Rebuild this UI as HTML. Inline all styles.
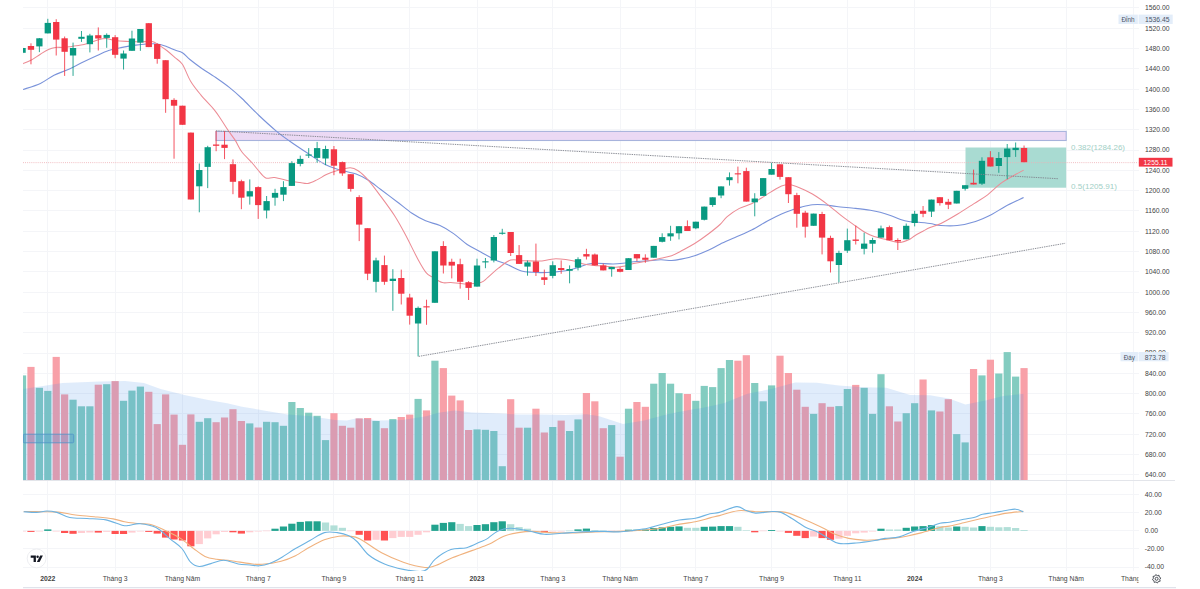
<!DOCTYPE html><html><head><meta charset="utf-8"><style>html,body{margin:0;padding:0;background:#fff;}svg{display:block;}</style></head><body>
<svg width="1200" height="589" viewBox="0 0 1200 589" font-family='"Liberation Sans", sans-serif'>
<rect x="0" y="0" width="1200" height="589" fill="#ffffff"/>
<defs><clipPath id="cm"><rect x="23" y="0" width="1115.5" height="480"/></clipPath>
<clipPath id="cd"><rect x="23" y="481" width="1115.5" height="90"/></clipPath>
<clipPath id="ct"><rect x="23" y="571" width="1115.5" height="17"/></clipPath></defs>
<g stroke="#f4f5f8" stroke-width="1" shape-rendering="crispEdges"><line x1="47.8" y1="0" x2="47.8" y2="571"/><line x1="115.13" y1="0" x2="115.13" y2="571"/><line x1="182.45" y1="0" x2="182.45" y2="571"/><line x1="258.2" y1="0" x2="258.2" y2="571"/><line x1="333.94" y1="0" x2="333.94" y2="571"/><line x1="409.69" y1="0" x2="409.69" y2="571"/><line x1="477.01" y1="0" x2="477.01" y2="571"/><line x1="552.76" y1="0" x2="552.76" y2="571"/><line x1="620.09" y1="0" x2="620.09" y2="571"/><line x1="695.83" y1="0" x2="695.83" y2="571"/><line x1="771.57" y1="0" x2="771.57" y2="571"/><line x1="847.32" y1="0" x2="847.32" y2="571"/><line x1="914.65" y1="0" x2="914.65" y2="571"/><line x1="990.39" y1="0" x2="990.39" y2="571"/><line x1="1066.13" y1="0" x2="1066.13" y2="571"/><line x1="1133.46" y1="0" x2="1133.46" y2="571"/><line x1="23" y1="474.8" x2="1138.5" y2="474.8"/><line x1="23" y1="454.5" x2="1138.5" y2="454.5"/><line x1="23" y1="434.2" x2="1138.5" y2="434.2"/><line x1="23" y1="413.9" x2="1138.5" y2="413.9"/><line x1="23" y1="393.6" x2="1138.5" y2="393.6"/><line x1="23" y1="373.3" x2="1138.5" y2="373.3"/><line x1="23" y1="353" x2="1138.5" y2="353"/><line x1="23" y1="332.7" x2="1138.5" y2="332.7"/><line x1="23" y1="312.4" x2="1138.5" y2="312.4"/><line x1="23" y1="292.1" x2="1138.5" y2="292.1"/><line x1="23" y1="271.8" x2="1138.5" y2="271.8"/><line x1="23" y1="251.5" x2="1138.5" y2="251.5"/><line x1="23" y1="231.2" x2="1138.5" y2="231.2"/><line x1="23" y1="210.9" x2="1138.5" y2="210.9"/><line x1="23" y1="190.6" x2="1138.5" y2="190.6"/><line x1="23" y1="170.3" x2="1138.5" y2="170.3"/><line x1="23" y1="150" x2="1138.5" y2="150"/><line x1="23" y1="129.7" x2="1138.5" y2="129.7"/><line x1="23" y1="109.4" x2="1138.5" y2="109.4"/><line x1="23" y1="89.1" x2="1138.5" y2="89.1"/><line x1="23" y1="68.8" x2="1138.5" y2="68.8"/><line x1="23" y1="48.5" x2="1138.5" y2="48.5"/><line x1="23" y1="28.2" x2="1138.5" y2="28.2"/><line x1="23" y1="7.9" x2="1138.5" y2="7.9"/><line x1="23" y1="494.8" x2="1138.5" y2="494.8"/><line x1="23" y1="512.85" x2="1138.5" y2="512.85"/><line x1="23" y1="530.9" x2="1138.5" y2="530.9"/><line x1="23" y1="548.95" x2="1138.5" y2="548.95"/><line x1="23" y1="567" x2="1138.5" y2="567"/></g>
<g clip-path="url(#cm)">
<rect x="216" y="131.4" width="850.2" height="9.1" fill="#e9d6f3" fill-opacity="0.92" stroke="#a7b3dc" stroke-width="1.1"/>
<rect x="965.5" y="147.5" width="100.7" height="40.2" fill="#a9dbd2"/>
<rect x="18.95" y="375.4" width="7.2" height="104.6" fill="#83ccc0"/><rect x="27.37" y="366.9" width="7.2" height="113.1" fill="#f8a0a8"/><rect x="35.78" y="387.8" width="7.2" height="92.2" fill="#83ccc0"/><rect x="44.2" y="390.9" width="7.2" height="89.1" fill="#83ccc0"/><rect x="52.61" y="356.9" width="7.2" height="123.1" fill="#f8a0a8"/><rect x="61.03" y="394.4" width="7.2" height="85.6" fill="#f8a0a8"/><rect x="69.45" y="399.7" width="7.2" height="80.3" fill="#83ccc0"/><rect x="77.86" y="406.3" width="7.2" height="73.7" fill="#83ccc0"/><rect x="86.28" y="406.3" width="7.2" height="73.7" fill="#83ccc0"/><rect x="94.69" y="384.7" width="7.2" height="95.3" fill="#f8a0a8"/><rect x="103.11" y="384.2" width="7.2" height="95.8" fill="#83ccc0"/><rect x="111.53" y="381.1" width="7.2" height="98.9" fill="#f8a0a8"/><rect x="119.94" y="400.8" width="7.2" height="79.2" fill="#83ccc0"/><rect x="128.36" y="390.6" width="7.2" height="89.4" fill="#83ccc0"/><rect x="136.77" y="386.6" width="7.2" height="93.4" fill="#83ccc0"/><rect x="145.19" y="391.8" width="7.2" height="88.2" fill="#f8a0a8"/><rect x="153.61" y="424.1" width="7.2" height="55.9" fill="#f8a0a8"/><rect x="162.02" y="394.4" width="7.2" height="85.6" fill="#f8a0a8"/><rect x="170.44" y="414.6" width="7.2" height="65.4" fill="#f8a0a8"/><rect x="178.85" y="444.8" width="7.2" height="35.2" fill="#f8a0a8"/><rect x="187.27" y="414.4" width="7.2" height="65.6" fill="#f8a0a8"/><rect x="195.69" y="421.8" width="7.2" height="58.2" fill="#83ccc0"/><rect x="204.1" y="418.2" width="7.2" height="61.8" fill="#83ccc0"/><rect x="212.52" y="422.2" width="7.2" height="57.8" fill="#f8a0a8"/><rect x="220.93" y="417.5" width="7.2" height="62.5" fill="#f8a0a8"/><rect x="229.35" y="409.2" width="7.2" height="70.8" fill="#f8a0a8"/><rect x="237.77" y="421" width="7.2" height="59" fill="#f8a0a8"/><rect x="246.18" y="423.4" width="7.2" height="56.6" fill="#83ccc0"/><rect x="254.6" y="427.5" width="7.2" height="52.5" fill="#f8a0a8"/><rect x="263.01" y="421.8" width="7.2" height="58.2" fill="#83ccc0"/><rect x="271.43" y="422.2" width="7.2" height="57.8" fill="#83ccc0"/><rect x="279.85" y="425.8" width="7.2" height="54.2" fill="#83ccc0"/><rect x="288.26" y="402" width="7.2" height="78" fill="#83ccc0"/><rect x="296.68" y="408" width="7.2" height="72" fill="#83ccc0"/><rect x="305.09" y="412.7" width="7.2" height="67.3" fill="#83ccc0"/><rect x="313.51" y="415.8" width="7.2" height="64.2" fill="#83ccc0"/><rect x="321.93" y="440.1" width="7.2" height="39.9" fill="#83ccc0"/><rect x="330.34" y="413.2" width="7.2" height="66.8" fill="#f8a0a8"/><rect x="338.76" y="425.8" width="7.2" height="54.2" fill="#f8a0a8"/><rect x="347.17" y="427.7" width="7.2" height="52.3" fill="#f8a0a8"/><rect x="355.59" y="418.4" width="7.2" height="61.6" fill="#f8a0a8"/><rect x="364.01" y="418" width="7.2" height="62" fill="#f8a0a8"/><rect x="372.42" y="421" width="7.2" height="59" fill="#83ccc0"/><rect x="380.84" y="428.2" width="7.2" height="51.8" fill="#f8a0a8"/><rect x="389.25" y="419.1" width="7.2" height="60.9" fill="#83ccc0"/><rect x="397.67" y="417" width="7.2" height="63" fill="#f8a0a8"/><rect x="406.09" y="414.6" width="7.2" height="65.4" fill="#f8a0a8"/><rect x="414.5" y="398.9" width="7.2" height="81.1" fill="#83ccc0"/><rect x="422.92" y="410.4" width="7.2" height="69.6" fill="#f8a0a8"/><rect x="431.33" y="360.7" width="7.2" height="119.3" fill="#83ccc0"/><rect x="439.75" y="368.1" width="7.2" height="111.9" fill="#f8a0a8"/><rect x="448.17" y="395.6" width="7.2" height="84.4" fill="#f8a0a8"/><rect x="456.58" y="400.4" width="7.2" height="79.6" fill="#f8a0a8"/><rect x="465" y="430" width="7.2" height="50" fill="#f8a0a8"/><rect x="473.41" y="429.4" width="7.2" height="50.6" fill="#83ccc0"/><rect x="481.83" y="429.8" width="7.2" height="50.2" fill="#83ccc0"/><rect x="490.25" y="431" width="7.2" height="49" fill="#83ccc0"/><rect x="498.66" y="466.2" width="7.2" height="13.8" fill="#83ccc0"/><rect x="507.08" y="399.2" width="7.2" height="80.8" fill="#f8a0a8"/><rect x="515.49" y="427.7" width="7.2" height="52.3" fill="#f8a0a8"/><rect x="523.91" y="427.7" width="7.2" height="52.3" fill="#83ccc0"/><rect x="532.33" y="408.7" width="7.2" height="71.3" fill="#f8a0a8"/><rect x="540.74" y="432.5" width="7.2" height="47.5" fill="#f8a0a8"/><rect x="549.16" y="427" width="7.2" height="53" fill="#83ccc0"/><rect x="557.57" y="420.6" width="7.2" height="59.4" fill="#f8a0a8"/><rect x="565.99" y="431" width="7.2" height="49" fill="#83ccc0"/><rect x="574.41" y="419.4" width="7.2" height="60.6" fill="#83ccc0"/><rect x="582.82" y="393" width="7.2" height="87" fill="#f8a0a8"/><rect x="591.24" y="401.3" width="7.2" height="78.7" fill="#f8a0a8"/><rect x="599.65" y="428.2" width="7.2" height="51.8" fill="#f8a0a8"/><rect x="608.07" y="425.1" width="7.2" height="54.9" fill="#83ccc0"/><rect x="616.49" y="456.7" width="7.2" height="23.3" fill="#f8a0a8"/><rect x="624.9" y="408.7" width="7.2" height="71.3" fill="#83ccc0"/><rect x="633.32" y="402" width="7.2" height="78" fill="#f8a0a8"/><rect x="641.73" y="406.8" width="7.2" height="73.2" fill="#f8a0a8"/><rect x="650.15" y="383.7" width="7.2" height="96.3" fill="#83ccc0"/><rect x="658.57" y="373" width="7.2" height="107" fill="#83ccc0"/><rect x="666.98" y="383.7" width="7.2" height="96.3" fill="#83ccc0"/><rect x="675.4" y="393.2" width="7.2" height="86.8" fill="#83ccc0"/><rect x="683.81" y="394" width="7.2" height="86" fill="#f8a0a8"/><rect x="692.23" y="400.8" width="7.2" height="79.2" fill="#83ccc0"/><rect x="700.65" y="385.9" width="7.2" height="94.1" fill="#83ccc0"/><rect x="709.06" y="387.1" width="7.2" height="92.9" fill="#83ccc0"/><rect x="717.48" y="368.1" width="7.2" height="111.9" fill="#83ccc0"/><rect x="725.89" y="360" width="7.2" height="120" fill="#83ccc0"/><rect x="734.31" y="360.7" width="7.2" height="119.3" fill="#f8a0a8"/><rect x="742.73" y="355.2" width="7.2" height="124.8" fill="#f8a0a8"/><rect x="751.14" y="383" width="7.2" height="97" fill="#83ccc0"/><rect x="759.56" y="401.3" width="7.2" height="78.7" fill="#83ccc0"/><rect x="767.97" y="385.4" width="7.2" height="94.6" fill="#83ccc0"/><rect x="776.39" y="355.7" width="7.2" height="124.3" fill="#f8a0a8"/><rect x="784.81" y="373" width="7.2" height="107" fill="#f8a0a8"/><rect x="793.22" y="389.7" width="7.2" height="90.3" fill="#f8a0a8"/><rect x="801.64" y="406.8" width="7.2" height="73.2" fill="#f8a0a8"/><rect x="810.05" y="413.9" width="7.2" height="66.1" fill="#83ccc0"/><rect x="818.47" y="403.2" width="7.2" height="76.8" fill="#f8a0a8"/><rect x="826.89" y="406.8" width="7.2" height="73.2" fill="#f8a0a8"/><rect x="835.3" y="406.1" width="7.2" height="73.9" fill="#83ccc0"/><rect x="843.72" y="389" width="7.2" height="91" fill="#83ccc0"/><rect x="852.13" y="384.9" width="7.2" height="95.1" fill="#f8a0a8"/><rect x="860.55" y="387.8" width="7.2" height="92.2" fill="#83ccc0"/><rect x="868.97" y="413.9" width="7.2" height="66.1" fill="#83ccc0"/><rect x="877.38" y="374.2" width="7.2" height="105.8" fill="#83ccc0"/><rect x="885.8" y="406.3" width="7.2" height="73.7" fill="#f8a0a8"/><rect x="894.21" y="421.5" width="7.2" height="58.5" fill="#f8a0a8"/><rect x="902.63" y="413.2" width="7.2" height="66.8" fill="#83ccc0"/><rect x="911.05" y="403.2" width="7.2" height="76.8" fill="#83ccc0"/><rect x="919.46" y="379.5" width="7.2" height="100.5" fill="#f8a0a8"/><rect x="927.88" y="410.4" width="7.2" height="69.6" fill="#83ccc0"/><rect x="936.29" y="411.5" width="7.2" height="68.5" fill="#f8a0a8"/><rect x="944.71" y="399.2" width="7.2" height="80.8" fill="#f8a0a8"/><rect x="953.13" y="434.1" width="7.2" height="45.9" fill="#83ccc0"/><rect x="961.54" y="442.4" width="7.2" height="37.6" fill="#83ccc0"/><rect x="969.96" y="369" width="7.2" height="111" fill="#f8a0a8"/><rect x="978.37" y="375.4" width="7.2" height="104.6" fill="#83ccc0"/><rect x="986.79" y="359.7" width="7.2" height="120.3" fill="#f8a0a8"/><rect x="995.21" y="373.5" width="7.2" height="106.5" fill="#83ccc0"/><rect x="1003.62" y="352.1" width="7.2" height="127.9" fill="#83ccc0"/><rect x="1012.04" y="376.6" width="7.2" height="103.4" fill="#83ccc0"/><rect x="1020.45" y="368.1" width="7.2" height="111.9" fill="#f8a0a8"/>
<polygon points="23.3,389 62.5,383 100,381.5 125,381.1 144,383 160.6,389 184.4,394.9 208.2,400.1 227.2,403.2 242,406.8 263.8,410.4 287.5,414.4 311.3,416.3 335.1,419.9 346.9,420.6 358,418 378.8,420.6 402.5,419.9 426.3,416.3 438.2,412.7 454.8,410.4 472,412.5 493.8,413.2 517.5,414.4 541.3,414.6 565.1,415.1 587,414.3 599.3,416.3 623,423.9 644.4,420.6 668.2,413.9 691.9,409.6 702,408 723.8,403.2 747.5,393.7 771.3,389 795.1,382.5 817,382.7 838.8,385.4 862.5,387.3 886.3,387.8 910.1,394.9 930,395.3 948.8,398.5 965.4,404.4 984.4,400.8 1003.4,396.1 1023.5,393.8 1023.5,480 23.3,480" fill="#3d8be6" fill-opacity="0.16"/>
<rect x="23.3" y="434.2" width="50.4" height="8.6" rx="1.2" fill="#4a90d9" fill-opacity="0.25" stroke="#4f93c8" stroke-opacity="0.8" stroke-width="1"/>
<path d="M23,89.5C25.9,88.48 35.23,85.78 40.4,83.4C45.57,81.02 49.47,77.47 54,75.2C58.53,72.93 63.08,71.83 67.6,69.8C72.12,67.77 76.53,65.22 81.1,63C85.67,60.78 90.42,58.58 95,56.5C99.58,54.42 104.07,52.02 108.6,50.5C113.13,48.98 117.67,48.3 122.2,47.4C126.73,46.5 131.73,45.67 135.8,45.1C139.87,44.53 142.98,44.18 146.6,44C150.22,43.82 154.1,43.55 157.5,44C160.9,44.45 164.08,45.68 167,46.7C169.92,47.72 172.43,49.1 175,50.1C177.57,51.1 179.92,51.13 182.4,52.7C184.88,54.27 186.83,57 189.9,59.5C192.97,62 196.27,64.53 200.8,67.7C205.33,70.87 212.35,75.22 217.1,78.5C221.85,81.78 225.15,84.07 229.3,87.4C233.45,90.73 237.05,93.82 242,98.5C246.95,103.18 253.33,110.12 259,115.5C264.67,120.88 270.92,126.55 276,130.8C281.08,135.05 284.67,137.55 289.5,141C294.33,144.45 299.05,147.58 305,151.5C310.95,155.42 319.45,161.45 325.2,164.5C330.95,167.55 334.35,168.22 339.5,169.8C344.65,171.38 351.35,172.3 356.1,174C360.85,175.7 363.88,177.42 368,180C372.12,182.58 375.97,185.88 380.8,189.5C385.63,193.12 391.8,197.73 397,201.7C402.2,205.67 407.23,210.12 412,213.3C416.77,216.48 420.93,218.75 425.6,220.8C430.27,222.85 435.33,223.47 440,225.6C444.67,227.73 449.07,230.45 453.6,233.6C458.13,236.75 462.67,241.45 467.2,244.5C471.73,247.55 476.28,249.42 480.8,251.9C485.32,254.38 489.78,257.25 494.3,259.4C498.82,261.55 503.37,262.87 507.9,264.8C512.43,266.73 517.42,269.75 521.5,271C525.58,272.25 529,272.03 532.4,272.3C535.8,272.57 538.33,272.65 541.9,272.6C545.47,272.55 549.83,272.3 553.8,272C557.77,271.7 561.73,271.5 565.7,270.8C569.67,270.1 574.03,268.9 577.6,267.8C581.17,266.7 583.93,264.95 587.1,264.2C590.27,263.45 592.25,263.33 596.6,263.3C600.95,263.27 608.45,264.05 613.2,264C617.95,263.95 621.7,263.37 625.1,263C628.5,262.63 629.92,262.15 633.6,261.8C637.28,261.45 642.67,261.23 647.2,260.9C651.73,260.57 656.73,259.87 660.8,259.8C664.87,259.73 668.22,260.62 671.6,260.5C674.98,260.38 677.25,259.9 681.1,259.1C684.95,258.3 690.17,257.17 694.7,255.7C699.23,254.23 704.08,252.22 708.3,250.3C712.52,248.38 715.55,246.33 720,244.2C724.45,242.07 729.73,239.87 735,237.5C740.27,235.13 746.12,232.8 751.6,230C757.08,227.2 762.92,223.38 767.9,220.7C772.88,218.02 777.42,215.72 781.5,213.9C785.58,212.08 789.12,210.93 792.4,209.8C795.68,208.67 797.87,207.95 801.2,207.1C804.53,206.25 808.67,205.1 812.4,204.7C816.13,204.3 819.55,204.4 823.6,204.7C827.65,205 831.4,205.88 836.7,206.5C842,207.12 849.78,207.77 855.4,208.4C861.02,209.03 866.27,209.65 870.4,210.3C874.53,210.95 876.87,211.45 880.2,212.3C883.53,213.15 887,214.22 890.4,215.4C893.8,216.58 897.55,218.38 900.6,219.4C903.65,220.42 906.17,221.07 908.7,221.5C911.23,221.93 912.25,221.67 915.8,222C919.35,222.33 925.82,222.92 930,223.5C934.18,224.08 936.37,225.17 940.9,225.5C945.43,225.83 951.43,226.18 957.2,225.5C962.97,224.82 969.75,223.25 975.5,221.4C981.25,219.55 986.75,216.88 991.7,214.4C996.65,211.92 999.88,209.32 1005.2,206.5C1010.52,203.68 1020.53,199 1023.6,197.5" fill="none" stroke="#7a93da" stroke-width="1.1"/>
<path d="M23,63.7C24.32,63.13 28,61.88 30.9,60.3C33.8,58.72 37.47,56.02 40.4,54.2C43.33,52.38 46.02,50.53 48.5,49.4C50.98,48.27 52.8,47.73 55.3,47.4C57.8,47.07 60.78,47.57 63.5,47.4C66.22,47.23 68.67,46.78 71.6,46.4C74.53,46.02 78.38,45.62 81.1,45.1C83.82,44.58 85.25,44.12 87.9,43.3C90.55,42.48 94,41 97,40.2C100,39.4 102.83,38.43 105.9,38.5C108.97,38.57 111.55,40.1 115.4,40.6C119.25,41.1 124.93,41.28 129,41.5C133.07,41.72 135.95,41.9 139.8,41.9C143.65,41.9 148.92,40.97 152.1,41.5C155.28,42.03 156.45,43.6 158.9,45.1C161.35,46.6 164.12,48.42 166.8,50.5C169.48,52.58 172.4,55.3 175,57.6C177.6,59.9 179.8,60.37 182.4,64.3C185,68.23 187.53,76.12 190.6,81.2C193.67,86.28 196.85,90.03 200.8,94.8C204.75,99.57 210.87,105.6 214.3,109.8C217.73,114 219.03,116.48 221.4,120C223.77,123.52 226.18,127.5 228.5,130.9C230.82,134.3 233.15,137.02 235.3,140.4C237.45,143.78 238.58,147.43 241.4,151.2C244.22,154.97 249.43,159.87 252.2,163C254.97,166.13 255.73,167.5 258,170C260.27,172.5 263.05,176.75 265.8,178C268.55,179.25 270.55,177.02 274.5,177.5C278.45,177.98 285.25,180.05 289.5,180.9C293.75,181.75 296.93,182.17 300,182.6C303.07,183.03 305.08,183.95 307.9,183.5C310.72,183.05 313.82,181.38 316.9,179.9C319.98,178.42 323.23,176.08 326.4,174.6C329.57,173.12 331.93,172.13 335.9,171C339.87,169.87 346.43,167.8 350.2,167.8C353.97,167.8 355.53,168.98 358.5,171C361.47,173.02 364.28,175.67 368,179.9C371.72,184.13 376.42,190.5 380.8,196.4C385.18,202.3 390.23,208.98 394.3,215.3C398.37,221.62 401.27,226.98 405.2,234.3C409.13,241.62 414.42,252.82 417.9,259.2C421.38,265.58 423.6,269.57 426.1,272.6C428.6,275.63 430.18,275.73 432.9,277.4C435.62,279.07 439.4,281.75 442.4,282.6C445.4,283.45 447.22,282.28 450.9,282.5C454.58,282.72 459.52,283.9 464.5,283.9C469.48,283.9 476.95,283.53 480.8,282.5C484.65,281.47 484.67,280.08 487.6,277.7C490.53,275.32 494.55,271.13 498.4,268.2C502.25,265.27 506.4,261.33 510.7,260.1C515,258.87 519,260.67 524.2,260.8C529.4,260.93 536.97,261.22 541.9,260.9C546.83,260.58 549.83,259.13 553.8,258.9C557.77,258.67 562.13,259.1 565.7,259.5C569.27,259.9 572.03,260.52 575.2,261.3C578.37,262.08 581.53,263.52 584.7,264.2C587.87,264.88 591.03,265.1 594.2,265.4C597.37,265.7 600.13,265.7 603.7,266C607.27,266.3 612.03,267.2 615.6,267.2C619.17,267.2 622.1,266.6 625.1,266C628.1,265.4 629.92,264.42 633.6,263.6C637.28,262.78 642.67,262 647.2,261.1C651.73,260.2 656.73,259.1 660.8,258.2C664.87,257.3 668.22,256.9 671.6,255.7C674.98,254.5 677.25,253.03 681.1,251C684.95,248.97 690.17,246.33 694.7,243.5C699.23,240.67 704.08,237.17 708.3,234C712.52,230.83 716.85,227.4 720,224.5C723.15,221.6 723.97,219.28 727.2,216.6C730.43,213.92 735.33,210.55 739.4,208.4C743.47,206.25 747.98,205.4 751.6,203.7C755.22,202 757.92,200.13 761.1,198.2C764.28,196.27 767.3,194.13 770.7,192.1C774.1,190.07 778.45,187.27 781.5,186C784.55,184.73 785.92,184.17 789,184.5C792.08,184.83 796.1,186.42 800,188C803.9,189.58 807.83,191.28 812.4,194C816.97,196.72 822.42,200.57 827.4,204.3C832.38,208.03 837.63,212.82 842.3,216.4C846.97,219.98 851.65,223.15 855.4,225.8C859.15,228.45 861.68,230.5 864.8,232.3C867.92,234.1 870.68,235.43 874.1,236.6C877.52,237.77 881.73,238.42 885.3,239.3C888.87,240.18 892.95,241.38 895.5,241.9C898.05,242.42 898.4,242.75 900.6,242.4C902.8,242.05 906.33,240.92 908.7,239.8C911.07,238.68 912.42,237.13 914.8,235.7C917.18,234.27 920.47,232.55 923,231.2C925.53,229.85 927.02,228.88 930,227.6C932.98,226.32 936.28,225.77 940.9,223.5C945.52,221.23 952.18,217.32 957.7,214C963.22,210.68 969.02,206.8 974,203.6C978.98,200.4 983.08,198.2 987.6,194.8C992.12,191.4 996.8,186.37 1001.1,183.2C1005.4,180.03 1009.65,177.98 1013.4,175.8C1017.15,173.62 1021.9,171.05 1023.6,170.1" fill="none" stroke="#ec8c95" stroke-width="1.05"/>
<line x1="23" y1="162.63" x2="1138.5" y2="162.63" stroke="#eeb0b5" stroke-width="0.9" stroke-dasharray="0.9 1.2"/>
<rect x="22.05" y="46.5" width="1" height="8" fill="#089981" fill-opacity="0.85"/><rect x="19.4" y="48" width="6.3" height="4.8" fill="#089981"/><rect x="30.47" y="43.3" width="1" height="21" fill="#f23645" fill-opacity="0.85"/><rect x="27.82" y="46" width="6.3" height="3.8" fill="#f23645"/><rect x="38.88" y="38" width="1" height="14.1" fill="#089981" fill-opacity="0.85"/><rect x="36.23" y="38.3" width="6.3" height="8.1" fill="#089981"/><rect x="47.3" y="18.8" width="1" height="14.6" fill="#089981" fill-opacity="0.85"/><rect x="44.65" y="22.9" width="6.3" height="10.5" fill="#089981"/><rect x="55.71" y="19.2" width="1" height="36.3" fill="#f23645" fill-opacity="0.85"/><rect x="53.06" y="22" width="6.3" height="17.6" fill="#f23645"/><rect x="64.13" y="36.5" width="1" height="39.4" fill="#f23645" fill-opacity="0.85"/><rect x="61.48" y="38.3" width="6.3" height="13.5" fill="#f23645"/><rect x="72.55" y="42.6" width="1" height="33.3" fill="#089981" fill-opacity="0.85"/><rect x="69.9" y="48" width="6.3" height="7.5" fill="#089981"/><rect x="80.96" y="31" width="1" height="10.9" fill="#089981" fill-opacity="0.85"/><rect x="78.31" y="36.8" width="6.3" height="2" fill="#089981"/><rect x="89.38" y="33.8" width="1" height="18.6" fill="#089981" fill-opacity="0.85"/><rect x="86.73" y="35.5" width="6.3" height="8.7" fill="#089981"/><rect x="97.79" y="27.4" width="1" height="23.1" fill="#f23645" fill-opacity="0.85"/><rect x="95.14" y="35.2" width="6.3" height="3.3" fill="#f23645"/><rect x="106.21" y="33.4" width="1" height="14.4" fill="#089981" fill-opacity="0.85"/><rect x="103.56" y="34.9" width="6.3" height="3" fill="#089981"/><rect x="114.63" y="35.1" width="1" height="23.1" fill="#f23645" fill-opacity="0.85"/><rect x="111.98" y="37.2" width="6.3" height="17.6" fill="#f23645"/><rect x="123.04" y="50.5" width="1" height="19" fill="#089981" fill-opacity="0.85"/><rect x="120.39" y="53.5" width="6.3" height="5.1" fill="#089981"/><rect x="131.46" y="30.7" width="1" height="20.1" fill="#089981" fill-opacity="0.85"/><rect x="128.81" y="38.5" width="6.3" height="12.3" fill="#089981"/><rect x="139.87" y="29" width="1" height="21.8" fill="#089981" fill-opacity="0.85"/><rect x="137.22" y="29" width="6.3" height="13.6" fill="#089981"/><rect x="148.29" y="23" width="1" height="24.1" fill="#f23645" fill-opacity="0.85"/><rect x="145.64" y="23.2" width="6.3" height="23.9" fill="#f23645"/><rect x="156.71" y="43.3" width="1" height="20.4" fill="#f23645" fill-opacity="0.85"/><rect x="154.06" y="44" width="6.3" height="14.9" fill="#f23645"/><rect x="165.12" y="60.2" width="1" height="52.6" fill="#f23645" fill-opacity="0.85"/><rect x="162.47" y="60.2" width="6.3" height="39" fill="#f23645"/><rect x="173.54" y="98.2" width="1" height="60.5" fill="#f23645" fill-opacity="0.85"/><rect x="170.89" y="99.9" width="6.3" height="5.8" fill="#f23645"/><rect x="181.95" y="105.7" width="1" height="19.1" fill="#f23645" fill-opacity="0.85"/><rect x="179.3" y="105.7" width="6.3" height="19.1" fill="#f23645"/><rect x="190.37" y="132.6" width="1" height="66.9" fill="#f23645" fill-opacity="0.85"/><rect x="187.72" y="132.6" width="6.3" height="66.9" fill="#f23645"/><rect x="198.79" y="163.5" width="1" height="48.8" fill="#089981" fill-opacity="0.85"/><rect x="196.14" y="170" width="6.3" height="16.3" fill="#089981"/><rect x="207.2" y="145.8" width="1" height="42.3" fill="#089981" fill-opacity="0.85"/><rect x="204.55" y="147.2" width="6.3" height="19.7" fill="#089981"/><rect x="215.62" y="130.9" width="1" height="20.3" fill="#f23645" fill-opacity="0.85"/><rect x="212.97" y="144.5" width="6.3" height="1.3" fill="#f23645"/><rect x="224.03" y="130.9" width="1" height="28.2" fill="#f23645" fill-opacity="0.85"/><rect x="221.38" y="144.7" width="6.3" height="3.2" fill="#f23645"/><rect x="232.45" y="159.4" width="1" height="34.8" fill="#f23645" fill-opacity="0.85"/><rect x="229.8" y="164.2" width="6.3" height="17.6" fill="#f23645"/><rect x="240.87" y="179.7" width="1" height="29.5" fill="#f23645" fill-opacity="0.85"/><rect x="238.22" y="181.2" width="6.3" height="16.5" fill="#f23645"/><rect x="249.28" y="179.4" width="1" height="25.2" fill="#089981" fill-opacity="0.85"/><rect x="246.63" y="191.2" width="6.3" height="5.3" fill="#089981"/><rect x="257.7" y="186.3" width="1" height="32.6" fill="#f23645" fill-opacity="0.85"/><rect x="255.05" y="187.1" width="6.3" height="18" fill="#f23645"/><rect x="266.11" y="196" width="1" height="22.4" fill="#089981" fill-opacity="0.85"/><rect x="263.46" y="201.1" width="6.3" height="9.4" fill="#089981"/><rect x="274.53" y="188.8" width="1" height="16.9" fill="#089981" fill-opacity="0.85"/><rect x="271.88" y="192.9" width="6.3" height="4.8" fill="#089981"/><rect x="282.95" y="181.2" width="1" height="19.9" fill="#089981" fill-opacity="0.85"/><rect x="280.3" y="187.1" width="6.3" height="7.6" fill="#089981"/><rect x="291.36" y="161.2" width="1" height="24.7" fill="#089981" fill-opacity="0.85"/><rect x="288.71" y="163.1" width="6.3" height="22.8" fill="#089981"/><rect x="299.78" y="155.6" width="1" height="10.7" fill="#089981" fill-opacity="0.85"/><rect x="297.13" y="158.9" width="6.3" height="5" fill="#089981"/><rect x="308.19" y="148.1" width="1" height="9.9" fill="#089981" fill-opacity="0.85"/><rect x="305.54" y="154.5" width="6.3" height="1.1" fill="#089981"/><rect x="316.61" y="141.9" width="1" height="20.8" fill="#089981" fill-opacity="0.85"/><rect x="313.96" y="148.1" width="6.3" height="9.8" fill="#089981"/><rect x="325.03" y="145.7" width="1" height="19.4" fill="#089981" fill-opacity="0.85"/><rect x="322.38" y="149" width="6.3" height="9.5" fill="#089981"/><rect x="333.44" y="146" width="1" height="29.2" fill="#f23645" fill-opacity="0.85"/><rect x="330.79" y="149.3" width="6.3" height="16.4" fill="#f23645"/><rect x="341.86" y="161.5" width="1" height="14.3" fill="#f23645" fill-opacity="0.85"/><rect x="339.21" y="162.1" width="6.3" height="11.3" fill="#f23645"/><rect x="350.27" y="174.2" width="1" height="17.4" fill="#f23645" fill-opacity="0.85"/><rect x="347.62" y="174.2" width="6.3" height="14.7" fill="#f23645"/><rect x="358.69" y="195.2" width="1" height="45.9" fill="#f23645" fill-opacity="0.85"/><rect x="356.04" y="197.1" width="6.3" height="27.5" fill="#f23645"/><rect x="367.11" y="228.2" width="1" height="51.9" fill="#f23645" fill-opacity="0.85"/><rect x="364.46" y="228.2" width="6.3" height="45.5" fill="#f23645"/><rect x="375.52" y="257.7" width="1" height="34.6" fill="#089981" fill-opacity="0.85"/><rect x="372.87" y="260.4" width="6.3" height="21.4" fill="#089981"/><rect x="383.94" y="255.6" width="1" height="29.2" fill="#f23645" fill-opacity="0.85"/><rect x="381.29" y="265.1" width="6.3" height="16.7" fill="#f23645"/><rect x="392.35" y="269.2" width="1" height="41.6" fill="#089981" fill-opacity="0.85"/><rect x="389.7" y="278.7" width="6.3" height="2.3" fill="#089981"/><rect x="400.77" y="269.6" width="1" height="34.9" fill="#f23645" fill-opacity="0.85"/><rect x="398.12" y="278" width="6.3" height="15.7" fill="#f23645"/><rect x="409.19" y="293.8" width="1" height="30.8" fill="#f23645" fill-opacity="0.85"/><rect x="406.54" y="297.5" width="6.3" height="18.2" fill="#f23645"/><rect x="417.6" y="306.5" width="1" height="49.9" fill="#089981" fill-opacity="0.85"/><rect x="414.95" y="307.9" width="6.3" height="15.6" fill="#089981"/><rect x="426.02" y="299.7" width="1" height="25.1" fill="#f23645" fill-opacity="0.85"/><rect x="423.37" y="306.3" width="6.3" height="1.1" fill="#f23645"/><rect x="434.43" y="251.3" width="1" height="51.5" fill="#089981" fill-opacity="0.85"/><rect x="431.78" y="251.3" width="6.3" height="51.5" fill="#089981"/><rect x="442.85" y="241.2" width="1" height="32.3" fill="#f23645" fill-opacity="0.85"/><rect x="440.2" y="246" width="6.3" height="19.5" fill="#f23645"/><rect x="451.27" y="258.7" width="1" height="19.7" fill="#f23645" fill-opacity="0.85"/><rect x="448.62" y="261.8" width="6.3" height="3.8" fill="#f23645"/><rect x="459.68" y="258.7" width="1" height="29.9" fill="#f23645" fill-opacity="0.85"/><rect x="457.03" y="264.2" width="6.3" height="17.6" fill="#f23645"/><rect x="468.1" y="281.1" width="1" height="18.9" fill="#f23645" fill-opacity="0.85"/><rect x="465.45" y="282.2" width="6.3" height="5.7" fill="#f23645"/><rect x="476.51" y="258.7" width="1" height="27.9" fill="#089981" fill-opacity="0.85"/><rect x="473.86" y="265.5" width="6.3" height="21.1" fill="#089981"/><rect x="484.93" y="258" width="1" height="10.2" fill="#089981" fill-opacity="0.85"/><rect x="482.28" y="261.3" width="6.3" height="1.1" fill="#089981"/><rect x="493.35" y="235" width="1" height="27.4" fill="#089981" fill-opacity="0.85"/><rect x="490.7" y="237" width="6.3" height="23.5" fill="#089981"/><rect x="501.76" y="228.8" width="1" height="5.9" fill="#089981" fill-opacity="0.85"/><rect x="499.11" y="232.7" width="6.3" height="1.1" fill="#089981"/><rect x="510.18" y="232" width="1" height="24" fill="#f23645" fill-opacity="0.85"/><rect x="507.53" y="232" width="6.3" height="21" fill="#f23645"/><rect x="518.59" y="245.1" width="1" height="18.8" fill="#f23645" fill-opacity="0.85"/><rect x="515.94" y="255.1" width="6.3" height="8.8" fill="#f23645"/><rect x="527.01" y="260.5" width="1" height="15.2" fill="#089981" fill-opacity="0.85"/><rect x="524.36" y="262.4" width="6.3" height="4.2" fill="#089981"/><rect x="535.43" y="243.6" width="1" height="32.4" fill="#f23645" fill-opacity="0.85"/><rect x="532.78" y="261.5" width="6.3" height="10.5" fill="#f23645"/><rect x="543.84" y="269.6" width="1" height="15.4" fill="#f23645" fill-opacity="0.85"/><rect x="541.19" y="277.3" width="6.3" height="2.6" fill="#f23645"/><rect x="552.26" y="261.3" width="1" height="17" fill="#089981" fill-opacity="0.85"/><rect x="549.61" y="265.2" width="6.3" height="10.7" fill="#089981"/><rect x="560.67" y="260.4" width="1" height="13.4" fill="#f23645" fill-opacity="0.85"/><rect x="558.02" y="268" width="6.3" height="2" fill="#f23645"/><rect x="569.09" y="265.4" width="1" height="17.9" fill="#089981" fill-opacity="0.85"/><rect x="566.44" y="269" width="6.3" height="1.8" fill="#089981"/><rect x="577.51" y="257.3" width="1" height="13.1" fill="#089981" fill-opacity="0.85"/><rect x="574.86" y="259.2" width="6.3" height="8.4" fill="#089981"/><rect x="585.92" y="248.8" width="1" height="10.7" fill="#f23645" fill-opacity="0.85"/><rect x="583.27" y="254.1" width="6.3" height="2.4" fill="#f23645"/><rect x="594.34" y="253.5" width="1" height="11.9" fill="#f23645" fill-opacity="0.85"/><rect x="591.69" y="254.5" width="6.3" height="10.9" fill="#f23645"/><rect x="602.75" y="263.6" width="1" height="6.8" fill="#f23645" fill-opacity="0.85"/><rect x="600.1" y="265.4" width="6.3" height="5" fill="#f23645"/><rect x="611.17" y="266.9" width="1" height="9.8" fill="#089981" fill-opacity="0.85"/><rect x="608.52" y="266.9" width="6.3" height="2.3" fill="#089981"/><rect x="619.59" y="267.2" width="1" height="5.1" fill="#f23645" fill-opacity="0.85"/><rect x="616.94" y="268.9" width="6.3" height="2.9" fill="#f23645"/><rect x="628" y="258.2" width="1" height="11.8" fill="#089981" fill-opacity="0.85"/><rect x="625.35" y="258.2" width="6.3" height="11.8" fill="#089981"/><rect x="636.42" y="254.1" width="1" height="7" fill="#f23645" fill-opacity="0.85"/><rect x="633.77" y="254.1" width="6.3" height="4.3" fill="#f23645"/><rect x="644.83" y="254.3" width="1" height="8.5" fill="#f23645" fill-opacity="0.85"/><rect x="642.18" y="257.7" width="6.3" height="2.1" fill="#f23645"/><rect x="653.25" y="245.9" width="1" height="11.8" fill="#089981" fill-opacity="0.85"/><rect x="650.6" y="245.9" width="6.3" height="11.8" fill="#089981"/><rect x="661.67" y="233.3" width="1" height="9.1" fill="#089981" fill-opacity="0.85"/><rect x="659.02" y="237.1" width="6.3" height="4.7" fill="#089981"/><rect x="670.08" y="225.8" width="1" height="15" fill="#089981" fill-opacity="0.85"/><rect x="667.43" y="233.3" width="6.3" height="3.1" fill="#089981"/><rect x="678.5" y="226.2" width="1" height="13.2" fill="#089981" fill-opacity="0.85"/><rect x="675.85" y="226.2" width="6.3" height="7.1" fill="#089981"/><rect x="686.91" y="220.4" width="1" height="10.6" fill="#f23645" fill-opacity="0.85"/><rect x="684.26" y="226.1" width="6.3" height="4.9" fill="#f23645"/><rect x="695.33" y="221.7" width="1" height="7.5" fill="#089981" fill-opacity="0.85"/><rect x="692.68" y="221.7" width="6.3" height="6.6" fill="#089981"/><rect x="703.75" y="206.6" width="1" height="13.8" fill="#089981" fill-opacity="0.85"/><rect x="701.1" y="206.6" width="6.3" height="13.2" fill="#089981"/><rect x="712.16" y="197.3" width="1" height="9.5" fill="#089981" fill-opacity="0.85"/><rect x="709.51" y="197.3" width="6.3" height="7.7" fill="#089981"/><rect x="720.58" y="186.4" width="1" height="11.8" fill="#089981" fill-opacity="0.85"/><rect x="717.93" y="186.4" width="6.3" height="9.1" fill="#089981"/><rect x="728.99" y="172.4" width="1" height="13.2" fill="#089981" fill-opacity="0.85"/><rect x="726.34" y="177.2" width="6.3" height="3" fill="#089981"/><rect x="737.41" y="166.6" width="1" height="16.7" fill="#f23645" fill-opacity="0.85"/><rect x="734.76" y="173.3" width="6.3" height="1.1" fill="#f23645"/><rect x="745.83" y="167.7" width="1" height="33.9" fill="#f23645" fill-opacity="0.85"/><rect x="743.18" y="171.1" width="6.3" height="30.5" fill="#f23645"/><rect x="754.24" y="193.2" width="1" height="23.1" fill="#089981" fill-opacity="0.85"/><rect x="751.59" y="198.5" width="6.3" height="3.8" fill="#089981"/><rect x="762.66" y="178.1" width="1" height="17.8" fill="#089981" fill-opacity="0.85"/><rect x="760.01" y="178.1" width="6.3" height="17.8" fill="#089981"/><rect x="771.07" y="162.9" width="1" height="11.8" fill="#089981" fill-opacity="0.85"/><rect x="768.42" y="169" width="6.3" height="5.7" fill="#089981"/><rect x="779.49" y="164.3" width="1" height="15.3" fill="#f23645" fill-opacity="0.85"/><rect x="776.84" y="164.3" width="6.3" height="12.6" fill="#f23645"/><rect x="787.91" y="177.2" width="1" height="25.8" fill="#f23645" fill-opacity="0.85"/><rect x="785.26" y="177.2" width="6.3" height="17" fill="#f23645"/><rect x="796.32" y="192.8" width="1" height="34.9" fill="#f23645" fill-opacity="0.85"/><rect x="793.67" y="195.1" width="6.3" height="18.7" fill="#f23645"/><rect x="804.74" y="210.8" width="1" height="26.8" fill="#f23645" fill-opacity="0.85"/><rect x="802.09" y="212.7" width="6.3" height="14" fill="#f23645"/><rect x="813.15" y="213.6" width="1" height="12.2" fill="#089981" fill-opacity="0.85"/><rect x="810.5" y="213.6" width="6.3" height="12.2" fill="#089981"/><rect x="821.57" y="211.8" width="1" height="42.6" fill="#f23645" fill-opacity="0.85"/><rect x="818.92" y="214" width="6.3" height="23.6" fill="#f23645"/><rect x="829.99" y="235.7" width="1" height="36.8" fill="#f23645" fill-opacity="0.85"/><rect x="827.34" y="237.9" width="6.3" height="23.4" fill="#f23645"/><rect x="838.4" y="250.7" width="1" height="31.7" fill="#089981" fill-opacity="0.85"/><rect x="835.75" y="252.9" width="6.3" height="12.1" fill="#089981"/><rect x="846.82" y="228.6" width="1" height="24.3" fill="#089981" fill-opacity="0.85"/><rect x="844.17" y="240.2" width="6.3" height="10.5" fill="#089981"/><rect x="855.23" y="225.8" width="1" height="18.7" fill="#f23645" fill-opacity="0.85"/><rect x="852.58" y="239.5" width="6.3" height="1.4" fill="#f23645"/><rect x="863.65" y="232.7" width="1" height="21.7" fill="#089981" fill-opacity="0.85"/><rect x="861" y="243.6" width="6.3" height="5.2" fill="#089981"/><rect x="872.07" y="237.8" width="1" height="14.8" fill="#089981" fill-opacity="0.85"/><rect x="869.42" y="240" width="6.3" height="3.7" fill="#089981"/><rect x="880.48" y="225.6" width="1" height="12" fill="#089981" fill-opacity="0.85"/><rect x="877.83" y="228.4" width="6.3" height="9.2" fill="#089981"/><rect x="888.9" y="225.6" width="1" height="14.7" fill="#f23645" fill-opacity="0.85"/><rect x="886.25" y="227.1" width="6.3" height="13.2" fill="#f23645"/><rect x="897.31" y="238.3" width="1" height="11.7" fill="#f23645" fill-opacity="0.85"/><rect x="894.66" y="240" width="6.3" height="1.5" fill="#f23645"/><rect x="905.73" y="223.5" width="1" height="15.8" fill="#089981" fill-opacity="0.85"/><rect x="903.08" y="225.8" width="6.3" height="13.5" fill="#089981"/><rect x="914.15" y="210.8" width="1" height="15.6" fill="#089981" fill-opacity="0.85"/><rect x="911.5" y="213.8" width="6.3" height="9.2" fill="#089981"/><rect x="922.56" y="206" width="1" height="11.2" fill="#f23645" fill-opacity="0.85"/><rect x="919.91" y="210.8" width="6.3" height="3" fill="#f23645"/><rect x="930.98" y="199.6" width="1" height="17.4" fill="#089981" fill-opacity="0.85"/><rect x="928.33" y="199.6" width="6.3" height="12" fill="#089981"/><rect x="939.39" y="197.2" width="1" height="8.4" fill="#f23645" fill-opacity="0.85"/><rect x="936.74" y="197.2" width="6.3" height="5.9" fill="#f23645"/><rect x="947.81" y="198.9" width="1" height="10.2" fill="#f23645" fill-opacity="0.85"/><rect x="945.16" y="201.8" width="6.3" height="2.9" fill="#f23645"/><rect x="956.23" y="190.8" width="1" height="12.7" fill="#089981" fill-opacity="0.85"/><rect x="953.58" y="190.8" width="6.3" height="12.7" fill="#089981"/><rect x="964.64" y="185.2" width="1" height="5.4" fill="#089981" fill-opacity="0.85"/><rect x="961.99" y="185.2" width="6.3" height="3.6" fill="#089981"/><rect x="973.06" y="169.6" width="1" height="14.9" fill="#f23645" fill-opacity="0.85"/><rect x="970.41" y="182.8" width="6.3" height="1.7" fill="#f23645"/><rect x="981.47" y="157.3" width="1" height="27.7" fill="#089981" fill-opacity="0.85"/><rect x="978.82" y="160.8" width="6.3" height="22.9" fill="#089981"/><rect x="989.89" y="151.1" width="1" height="15.4" fill="#f23645" fill-opacity="0.85"/><rect x="987.24" y="157.3" width="6.3" height="9.2" fill="#f23645"/><rect x="998.31" y="152.1" width="1" height="20.7" fill="#089981" fill-opacity="0.85"/><rect x="995.66" y="158" width="6.3" height="8" fill="#089981"/><rect x="1006.72" y="144" width="1" height="35.2" fill="#089981" fill-opacity="0.85"/><rect x="1004.07" y="148.6" width="6.3" height="8.5" fill="#089981"/><rect x="1015.14" y="142.5" width="1" height="14.4" fill="#089981" fill-opacity="0.85"/><rect x="1012.49" y="147.8" width="6.3" height="2.3" fill="#089981"/><rect x="1023.55" y="145.5" width="1" height="16.7" fill="#f23645" fill-opacity="0.85"/><rect x="1020.9" y="148" width="6.3" height="14.2" fill="#f23645"/>
<line x1="216" y1="130.8" x2="1057.8" y2="178.7" stroke="#80838c" stroke-width="0.9" stroke-dasharray="1.4 0.9"/>
<line x1="418.7" y1="356.4" x2="1065.1" y2="243.3" stroke="#80838c" stroke-width="0.9" stroke-dasharray="1.4 0.9"/>
<text x="1071" y="149.6" font-size="7.2" fill="#9fcfc6" textLength="54" lengthAdjust="spacingAndGlyphs">0.382(1284.26)</text>
<text x="1071" y="189.2" font-size="7.2" fill="#9fcfc6" textLength="46" lengthAdjust="spacingAndGlyphs">0.5(1205.91)</text>
</g>
<line x1="23" y1="480.5" x2="1175" y2="480.5" stroke="#e3e5ea" stroke-width="1"/>
<g clip-path="url(#cd)">
<rect x="18.95" y="530.9" width="7.2" height="0.6" fill="#ffcdd2"/><rect x="27.37" y="530.9" width="7.2" height="1" fill="#ff5252"/><rect x="35.78" y="530.9" width="7.2" height="0.6" fill="#ffcdd2"/><rect x="44.2" y="529.4" width="7.2" height="1.5" fill="#22a38e"/><rect x="52.61" y="530.9" width="7.2" height="0.6" fill="#ffcdd2"/><rect x="61.03" y="530.9" width="7.2" height="2.1" fill="#ff5252"/><rect x="69.45" y="530.9" width="7.2" height="2.9" fill="#ff5252"/><rect x="77.86" y="530.9" width="7.2" height="2.1" fill="#ffcdd2"/><rect x="86.28" y="530.9" width="7.2" height="1.6" fill="#ffcdd2"/><rect x="94.69" y="530.9" width="7.2" height="1.7" fill="#ff5252"/><rect x="103.11" y="530.9" width="7.2" height="0.9" fill="#ffcdd2"/><rect x="111.53" y="530.9" width="7.2" height="3.1" fill="#ff5252"/><rect x="119.94" y="530.9" width="7.2" height="3.1" fill="#ff5252"/><rect x="128.36" y="530.9" width="7.2" height="1.7" fill="#ffcdd2"/><rect x="136.77" y="530.9" width="7.2" height="0.6" fill="#ffcdd2"/><rect x="145.19" y="530.9" width="7.2" height="1" fill="#ff5252"/><rect x="153.61" y="530.9" width="7.2" height="2.7" fill="#ff5252"/><rect x="162.02" y="530.9" width="7.2" height="6.7" fill="#ff5252"/><rect x="170.44" y="530.9" width="7.2" height="8.6" fill="#ff5252"/><rect x="178.85" y="530.9" width="7.2" height="9.6" fill="#ff5252"/><rect x="187.27" y="530.9" width="7.2" height="15.4" fill="#ff5252"/><rect x="195.69" y="530.9" width="7.2" height="13.2" fill="#ffcdd2"/><rect x="204.1" y="530.9" width="7.2" height="7.5" fill="#ffcdd2"/><rect x="212.52" y="530.9" width="7.2" height="3.4" fill="#ffcdd2"/><rect x="220.93" y="530.9" width="7.2" height="1" fill="#ffcdd2"/><rect x="229.35" y="530.9" width="7.2" height="1.4" fill="#ff5252"/><rect x="237.77" y="530.9" width="7.2" height="2.7" fill="#ff5252"/><rect x="246.18" y="530.9" width="7.2" height="1.4" fill="#ffcdd2"/><rect x="254.6" y="530.9" width="7.2" height="0.6" fill="#ffcdd2"/><rect x="263.01" y="530.6" width="7.2" height="0.6" fill="#ffcdd2"/><rect x="271.43" y="528.7" width="7.2" height="2.2" fill="#22a38e"/><rect x="279.85" y="526.5" width="7.2" height="4.4" fill="#22a38e"/><rect x="288.26" y="523.7" width="7.2" height="7.2" fill="#22a38e"/><rect x="296.68" y="521.9" width="7.2" height="9" fill="#22a38e"/><rect x="305.09" y="521.3" width="7.2" height="9.6" fill="#22a38e"/><rect x="313.51" y="521.3" width="7.2" height="9.6" fill="#22a38e"/><rect x="321.93" y="522.5" width="7.2" height="8.4" fill="#b2dfd8"/><rect x="330.34" y="525.4" width="7.2" height="5.5" fill="#b2dfd8"/><rect x="338.76" y="527.8" width="7.2" height="3.1" fill="#b2dfd8"/><rect x="347.17" y="530.6" width="7.2" height="0.6" fill="#ffcdd2"/><rect x="355.59" y="530.9" width="7.2" height="3.9" fill="#ff5252"/><rect x="364.01" y="530.9" width="7.2" height="9.6" fill="#ff5252"/><rect x="372.42" y="530.9" width="7.2" height="8.9" fill="#ffcdd2"/><rect x="380.84" y="530.9" width="7.2" height="9.6" fill="#ff5252"/><rect x="389.25" y="530.9" width="7.2" height="7.2" fill="#ffcdd2"/><rect x="397.67" y="530.9" width="7.2" height="6" fill="#ffcdd2"/><rect x="406.09" y="530.9" width="7.2" height="6" fill="#ffcdd2"/><rect x="414.5" y="530.9" width="7.2" height="3.9" fill="#ffcdd2"/><rect x="422.92" y="530.9" width="7.2" height="1.4" fill="#ffcdd2"/><rect x="431.33" y="524.7" width="7.2" height="6.2" fill="#22a38e"/><rect x="439.75" y="522.9" width="7.2" height="8" fill="#22a38e"/><rect x="448.17" y="522.2" width="7.2" height="8.7" fill="#22a38e"/><rect x="456.58" y="523.9" width="7.2" height="7" fill="#b2dfd8"/><rect x="465" y="526.1" width="7.2" height="4.8" fill="#b2dfd8"/><rect x="473.41" y="525" width="7.2" height="5.9" fill="#22a38e"/><rect x="481.83" y="524.2" width="7.2" height="6.7" fill="#22a38e"/><rect x="490.25" y="522.2" width="7.2" height="8.7" fill="#22a38e"/><rect x="498.66" y="521.3" width="7.2" height="9.6" fill="#22a38e"/><rect x="507.08" y="524.2" width="7.2" height="6.7" fill="#b2dfd8"/><rect x="515.49" y="527.1" width="7.2" height="3.8" fill="#b2dfd8"/><rect x="523.91" y="528.7" width="7.2" height="2.2" fill="#b2dfd8"/><rect x="532.33" y="530.9" width="7.2" height="0.6" fill="#ffcdd2"/><rect x="540.74" y="530.9" width="7.2" height="1.4" fill="#ff5252"/><rect x="549.16" y="530.9" width="7.2" height="0.6" fill="#ffcdd2"/><rect x="557.57" y="530.9" width="7.2" height="0.6" fill="#ffcdd2"/><rect x="565.99" y="530.6" width="7.2" height="0.6" fill="#b2dfd8"/><rect x="574.41" y="529.4" width="7.2" height="1.5" fill="#22a38e"/><rect x="582.82" y="528.6" width="7.2" height="2.3" fill="#22a38e"/><rect x="591.24" y="530.1" width="7.2" height="0.8" fill="#b2dfd8"/><rect x="599.65" y="530.6" width="7.2" height="0.6" fill="#b2dfd8"/><rect x="608.07" y="530.9" width="7.2" height="1.1" fill="#ff5252"/><rect x="616.49" y="530.9" width="7.2" height="0.9" fill="#ffcdd2"/><rect x="624.9" y="529.7" width="7.2" height="1.2" fill="#22a38e"/><rect x="633.32" y="529.7" width="7.2" height="1.2" fill="#22a38e"/><rect x="641.73" y="529.4" width="7.2" height="1.5" fill="#22a38e"/><rect x="650.15" y="528" width="7.2" height="2.9" fill="#22a38e"/><rect x="658.57" y="527.3" width="7.2" height="3.6" fill="#22a38e"/><rect x="666.98" y="526.8" width="7.2" height="4.1" fill="#22a38e"/><rect x="675.4" y="526.4" width="7.2" height="4.5" fill="#22a38e"/><rect x="683.81" y="527.8" width="7.2" height="3.1" fill="#b2dfd8"/><rect x="692.23" y="527.8" width="7.2" height="3.1" fill="#b2dfd8"/><rect x="700.65" y="526.8" width="7.2" height="4.1" fill="#22a38e"/><rect x="709.06" y="526.6" width="7.2" height="4.3" fill="#22a38e"/><rect x="717.48" y="526.1" width="7.2" height="4.8" fill="#22a38e"/><rect x="725.89" y="526.1" width="7.2" height="4.8" fill="#22a38e"/><rect x="734.31" y="526.8" width="7.2" height="4.1" fill="#b2dfd8"/><rect x="742.73" y="530.3" width="7.2" height="0.6" fill="#b2dfd8"/><rect x="751.14" y="530.9" width="7.2" height="1.4" fill="#ff5252"/><rect x="759.56" y="530.6" width="7.2" height="0.6" fill="#ffcdd2"/><rect x="767.97" y="530" width="7.2" height="0.9" fill="#22a38e"/><rect x="776.39" y="530.9" width="7.2" height="0.6" fill="#ffcdd2"/><rect x="784.81" y="530.9" width="7.2" height="2" fill="#ff5252"/><rect x="793.22" y="530.9" width="7.2" height="4.9" fill="#ff5252"/><rect x="801.64" y="530.9" width="7.2" height="7.2" fill="#ff5252"/><rect x="810.05" y="530.9" width="7.2" height="5.7" fill="#ffcdd2"/><rect x="818.47" y="530.9" width="7.2" height="7.2" fill="#ff5252"/><rect x="826.89" y="530.9" width="7.2" height="8.9" fill="#ff5252"/><rect x="835.3" y="530.9" width="7.2" height="7.8" fill="#ffcdd2"/><rect x="843.72" y="530.9" width="7.2" height="4.9" fill="#ffcdd2"/><rect x="852.13" y="530.9" width="7.2" height="2.4" fill="#ffcdd2"/><rect x="860.55" y="530.9" width="7.2" height="1.7" fill="#ffcdd2"/><rect x="868.97" y="530.9" width="7.2" height="0.6" fill="#ffcdd2"/><rect x="877.38" y="528.7" width="7.2" height="2.2" fill="#22a38e"/><rect x="885.8" y="529.5" width="7.2" height="1.4" fill="#b2dfd8"/><rect x="894.21" y="529.5" width="7.2" height="1.4" fill="#b2dfd8"/><rect x="902.63" y="527.8" width="7.2" height="3.1" fill="#22a38e"/><rect x="911.05" y="526.5" width="7.2" height="4.4" fill="#22a38e"/><rect x="919.46" y="526.1" width="7.2" height="4.8" fill="#22a38e"/><rect x="927.88" y="525.1" width="7.2" height="5.8" fill="#22a38e"/><rect x="936.29" y="526.3" width="7.2" height="4.6" fill="#b2dfd8"/><rect x="944.71" y="527.5" width="7.2" height="3.4" fill="#b2dfd8"/><rect x="953.13" y="526.5" width="7.2" height="4.4" fill="#22a38e"/><rect x="961.54" y="526.8" width="7.2" height="4.1" fill="#b2dfd8"/><rect x="969.96" y="527.5" width="7.2" height="3.4" fill="#b2dfd8"/><rect x="978.37" y="526.1" width="7.2" height="4.8" fill="#22a38e"/><rect x="986.79" y="526.8" width="7.2" height="4.1" fill="#b2dfd8"/><rect x="995.21" y="527.3" width="7.2" height="3.6" fill="#b2dfd8"/><rect x="1003.62" y="527.1" width="7.2" height="3.8" fill="#b2dfd8"/><rect x="1012.04" y="528" width="7.2" height="2.9" fill="#b2dfd8"/><rect x="1020.45" y="530" width="7.2" height="0.9" fill="#b2dfd8"/>
<path d="M23.7,511.5C27.05,511.53 38.03,511.6 43.8,511.7C49.57,511.8 53,511.55 58.3,512.1C63.6,512.65 69.6,514.23 75.6,515C81.6,515.77 88.05,516.05 94.3,516.7C100.55,517.35 108.05,518.05 113.1,518.9C118.15,519.75 120.95,521.08 124.6,521.8C128.25,522.52 130.5,522.72 135,523.2C139.5,523.68 146.42,523.42 151.6,524.7C156.78,525.98 161.28,528.62 166.1,530.9C170.92,533.18 175.93,535.47 180.5,538.4C185.07,541.33 189.42,545.5 193.5,548.5C197.58,551.5 201.17,554.6 205,556.4C208.83,558.2 212.17,558.58 216.5,559.3C220.83,560.02 225.42,559.98 231,560.7C236.58,561.42 244.78,563 250,563.6C255.22,564.2 257.12,564.7 262.3,564.3C267.48,563.9 275.57,562.63 281.1,561.2C286.63,559.77 290.7,558.07 295.5,555.7C300.3,553.33 305.1,549.65 309.9,547C314.7,544.35 319.48,541.6 324.3,539.8C329.12,538 334.7,536.8 338.8,536.2C342.9,535.6 345.37,535.73 348.9,536.2C352.43,536.67 354.55,536.23 360,539C365.45,541.77 374.38,548.93 381.6,552.8C388.82,556.67 396.08,559.75 403.3,562.2C410.52,564.65 419.62,566.9 424.9,567.5C430.18,568.1 430.43,567.42 435,565.8C439.57,564.18 444.8,560.82 452.3,557.8C459.8,554.78 473.82,549.98 480,547.7C486.18,545.42 485.43,546.02 489.4,544.1C493.37,542.18 498.98,538.12 503.8,536.2C508.62,534.28 513.48,533.4 518.3,532.6C523.12,531.8 526.7,531.35 532.7,531.4C538.7,531.45 547.08,532.65 554.3,532.9C561.52,533.15 569.22,533.07 576,532.9C582.78,532.73 587.87,532.15 595,531.9C602.13,531.65 610.02,531.77 618.8,531.4C627.58,531.03 640.48,530.27 647.7,529.7C654.92,529.13 657.3,528.83 662.1,528C666.9,527.17 670.97,525.73 676.5,524.7C682.03,523.67 689.72,522.93 695.3,521.8C700.88,520.67 705.98,518.93 710,517.9C714.02,516.87 714.7,516.8 719.4,515.6C724.1,514.4 732.18,511.35 738.2,510.7C744.22,510.05 750.22,511.53 755.5,511.7C760.78,511.87 764.85,511.58 769.9,511.7C774.95,511.82 779.78,510.97 785.8,512.4C791.82,513.83 799.47,517.53 806,520.3C812.53,523.07 820.27,526.72 825,529C829.73,531.28 830.43,532.43 834.4,534C838.37,535.57 843.98,537.38 848.8,538.4C853.62,539.42 858.48,539.87 863.3,540.1C868.12,540.33 872.9,540.08 877.7,539.8C882.5,539.52 887.3,539 892.1,538.4C896.9,537.8 901.68,537.12 906.5,536.2C911.32,535.28 915.42,534.35 921,532.9C926.58,531.45 935.27,528.63 940,527.5C944.73,526.37 945.43,526.88 949.4,526.1C953.37,525.32 958.98,523.93 963.8,522.8C968.62,521.67 973.48,520.43 978.3,519.3C983.12,518.17 987.9,517.03 992.7,516C997.5,514.97 1002,513.87 1007.1,513.1C1012.2,512.33 1020.6,511.68 1023.3,511.4" fill="none" stroke="#f0b27e" stroke-width="1.1"/>
<path d="M23.7,511.7C25.85,511.82 32.77,512.52 36.6,512.4C40.43,512.28 43.33,511 46.7,511C50.07,511 52.95,511.32 56.8,512.4C60.65,513.48 64.75,516.48 69.8,517.5C74.85,518.52 81.08,518.1 87.1,518.5C93.12,518.9 99.88,518.73 105.9,519.9C111.92,521.07 119.18,524.62 123.2,525.5C127.22,526.38 127.18,525.5 130,525.2C132.82,524.9 135.77,523.32 140.1,523.7C144.43,524.08 150.95,524.93 156,527.5C161.05,530.07 166.08,535.6 170.4,539.1C174.72,542.6 178.53,544.65 181.9,548.5C185.27,552.35 187.72,559.2 190.6,562.2C193.48,565.2 195.83,566.27 199.2,566.5C202.57,566.73 206.7,564.63 210.8,563.6C214.9,562.57 219.23,560.23 223.8,560.3C228.37,560.37 233.83,563.22 238.2,564C242.57,564.78 246.47,564.7 250,565C253.53,565.3 256.15,566.03 259.4,565.8C262.65,565.57 265.88,564.93 269.5,563.6C273.12,562.27 276.77,560.32 281.1,557.8C285.43,555.28 290.7,551.38 295.5,548.5C300.3,545.62 305.1,543.15 309.9,540.5C314.7,537.85 319.73,533.92 324.3,532.6C328.87,531.28 333.2,532.07 337.3,532.6C341.4,533.13 345.53,534.23 348.9,535.8C352.27,537.37 354.2,538.8 357.5,542C360.8,545.2 364.2,551.33 368.7,555C373.2,558.67 378.73,561.6 384.5,564C390.27,566.4 397.28,568.15 403.3,569.4C409.32,570.65 416.52,571.62 420.6,571.5C424.68,571.38 425.4,570.73 427.8,568.7C430.2,566.67 431.15,562.48 435,559.3C438.85,556.12 445.62,551.53 450.9,549.6C456.18,547.67 461.85,548.97 466.7,547.7C471.55,546.43 476.7,543.43 480,542C483.3,540.57 483.48,540.95 486.5,539.1C489.52,537.25 494,532.7 498.1,530.9C502.2,529.1 505.82,528.25 511.1,528.3C516.38,528.35 524.28,530.2 529.8,531.2C535.32,532.2 538.92,533.95 544.2,534.3C549.48,534.65 556.2,533.63 561.5,533.3C566.8,532.97 570.42,532.62 576,532.3C581.58,531.98 590.27,531.55 595,531.4C599.73,531.25 600.43,531.32 604.4,531.4C608.37,531.48 613.98,532.07 618.8,531.9C623.62,531.73 628.48,531 633.3,530.4C638.12,529.8 642.9,529.33 647.7,528.3C652.5,527.27 656.82,525.58 662.1,524.2C667.38,522.82 673.87,521 679.4,520C684.93,519 690.2,519.23 695.3,518.2C700.4,517.17 705.98,514.77 710,513.8C714.02,512.83 714.95,513.6 719.4,512.4C723.85,511.2 732.37,506.97 736.7,506.6C741.03,506.23 742.27,509.12 745.4,510.2C748.53,511.28 751.42,512.85 755.5,513.1C759.58,513.35 765.82,511.87 769.9,511.7C773.98,511.53 776.4,511.02 780,512.1C783.6,513.18 787.17,515.63 791.5,518.2C795.83,520.77 801.67,525.22 806,527.5C810.33,529.78 813.72,530.08 817.5,531.9C821.28,533.72 825.15,536.48 828.7,538.4C832.25,540.32 834.23,542.63 838.8,543.4C843.37,544.17 850.1,543.48 856.1,543C862.1,542.52 870,541.27 874.8,540.5C879.6,539.73 880.82,539 884.9,538.4C888.98,537.8 894.48,538.1 899.3,536.9C904.12,535.7 908.98,532.77 913.8,531.2C918.62,529.63 923.83,528.83 928.2,527.5C932.57,526.17 936.47,524.08 940,523.2C943.53,522.32 945.43,522.85 949.4,522.2C953.37,521.55 959.72,520.08 963.8,519.3C967.88,518.52 970.77,518.33 973.9,517.5C977.03,516.67 979.47,515.08 982.6,514.3C985.73,513.52 988.62,513.48 992.7,512.8C996.78,512.12 1003.25,510.8 1007.1,510.2C1010.95,509.6 1013.1,508.95 1015.8,509.2C1018.5,509.45 1022.05,511.28 1023.3,511.7" fill="none" stroke="#6db3e2" stroke-width="1.1"/>
</g>
<circle cx="36.6" cy="558.4" r="9.4" fill="#ffffff" stroke="#e9eaee" stroke-width="0.8"/>
<g fill="#131722"><path d="M30.7 555.6h5.2v6.5h-2.3v-4.4h-2.9z"/><circle cx="37.6" cy="556.8" r="1.2"/><path d="M40.2 555.6h2.7l-3.3 6.5h-2.7z"/></g>
<g font-size="6.8" fill="#434343"><text x="1145" y="477.2">640.00</text><text x="1145" y="456.9">680.00</text><text x="1145" y="436.6">720.00</text><text x="1145" y="416.3">760.00</text><text x="1145" y="396">800.00</text><text x="1145" y="375.7">840.00</text><text x="1145" y="335.1">920.00</text><text x="1145" y="314.8">960.00</text><text x="1145" y="294.5">1000.00</text><text x="1145" y="274.2">1040.00</text><text x="1145" y="253.9">1080.00</text><text x="1145" y="233.6">1120.00</text><text x="1145" y="213.3">1160.00</text><text x="1145" y="193">1200.00</text><text x="1145" y="172.7">1240.00</text><text x="1145" y="152.4">1280.00</text><text x="1145" y="132.1">1320.00</text><text x="1145" y="111.8">1360.00</text><text x="1145" y="91.5">1400.00</text><text x="1145" y="71.2">1440.00</text><text x="1145" y="50.9">1480.00</text><text x="1145" y="30.6">1520.00</text><text x="1145" y="10.3">1560.00</text></g>
<text x="1145" y="355.4" font-size="6.8" fill="#434343">880.00</text>
<rect x="1118.5" y="14.6" width="19.3" height="9.4" fill="#e3edf9"/>
<rect x="1138.6" y="14.6" width="34.1" height="9.4" fill="#e3edf9"/>
<text x="1121.4" y="22.2" font-size="7" fill="#4c5566" textLength="13.2" lengthAdjust="spacingAndGlyphs">Đỉnh</text>
<text x="1145" y="22.2" font-size="6.8" fill="#4c5566">1536.45</text>
<rect x="1120.5" y="352" width="17.4" height="9.3" fill="#e3edf9"/>
<rect x="1138.6" y="352" width="30" height="9.3" fill="#e3edf9"/>
<text x="1123.7" y="359.5" font-size="7" fill="#4c5566" textLength="11.1" lengthAdjust="spacingAndGlyphs">Đáy</text>
<text x="1144.7" y="359.5" font-size="6.8" fill="#4c5566">873.78</text>
<rect x="1138.8" y="157.8" width="33.7" height="8.8" fill="#f23645"/>
<text x="1155.6" y="164.8" text-anchor="middle" font-size="7.2" fill="#ffffff" textLength="24" lengthAdjust="spacingAndGlyphs">1255.11</text>
<g font-size="6.8" fill="#434343"><text x="1144.8" y="496.8">40.00</text><text x="1144.8" y="514.85">20.00</text><text x="1144.8" y="532.9">0.00</text><text x="1144.8" y="550.95">-20.00</text><text x="1144.8" y="569">-40.00</text></g>
<g clip-path="url(#ct)" font-size="6.8" fill="#434343"><text x="47.8" y="581.4" text-anchor="middle" font-weight="bold">2022</text><text x="115.13" y="581.4" text-anchor="middle">Tháng 3</text><text x="182.45" y="581.4" text-anchor="middle">Tháng Năm</text><text x="258.2" y="581.4" text-anchor="middle">Tháng 7</text><text x="333.94" y="581.4" text-anchor="middle">Tháng 9</text><text x="409.69" y="581.4" text-anchor="middle">Tháng 11</text><text x="477.01" y="581.4" text-anchor="middle" font-weight="bold">2023</text><text x="552.76" y="581.4" text-anchor="middle">Tháng 3</text><text x="620.09" y="581.4" text-anchor="middle">Tháng Năm</text><text x="695.83" y="581.4" text-anchor="middle">Tháng 7</text><text x="771.57" y="581.4" text-anchor="middle">Tháng 9</text><text x="847.32" y="581.4" text-anchor="middle">Tháng 11</text><text x="914.65" y="581.4" text-anchor="middle" font-weight="bold">2024</text><text x="990.39" y="581.4" text-anchor="middle">Tháng 3</text><text x="1066.13" y="581.4" text-anchor="middle">Tháng Năm</text><text x="1133.46" y="581.4" text-anchor="middle">Tháng 7</text></g>
<line x1="23" y1="587.6" x2="1176" y2="587.6" stroke="#e0e3eb" stroke-width="1.2"/>
<g transform="translate(1156.6,578.8)" fill="none" stroke="#2a2e39" stroke-width="0.8" stroke-linejoin="round"><polygon points="4.22,-0.84 3.14,0.62 3.58,2.39 1.78,2.66 0.84,4.22 -0.62,3.14 -2.39,3.58 -2.66,1.78 -4.22,0.84 -3.14,-0.62 -3.58,-2.39 -1.78,-2.66 -0.84,-4.22 0.62,-3.14 2.39,-3.58 2.66,-1.78"/><circle r="1.5"/></g>
</svg></body></html>
